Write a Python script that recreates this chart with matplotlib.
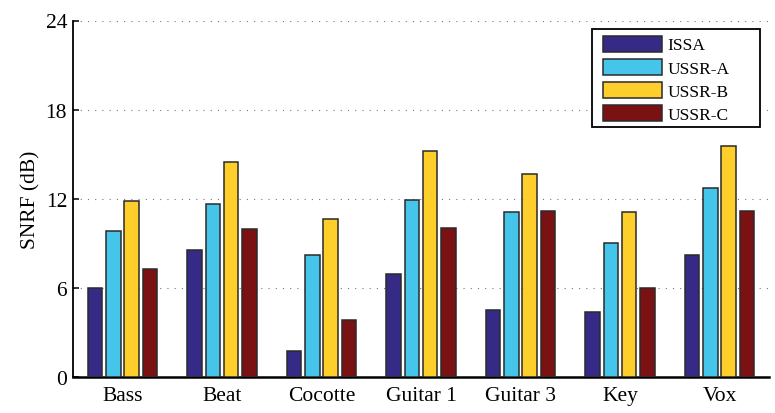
import matplotlib
matplotlib.use("Agg")
import matplotlib.pyplot as plt
from matplotlib.patches import Rectangle
import numpy as np

categories = ["Bass", "Beat", "Cocotte", "Guitar 1", "Guitar 3", "Key", "Vox"]
issa = [6.0, 8.55, 1.75, 6.94, 4.49, 4.38, 8.19]
ussr_a = [9.83, 11.63, 8.2, 11.9, 11.07, 8.98, 12.73]
ussr_b = [11.85, 14.44, 10.64, 15.2, 13.67, 11.09, 15.56]
ussr_c = [7.25, 9.95, 3.82, 10.03, 11.16, 5.95, 11.16]
series_names = ["ISSA", "USSR-A", "USSR-B", "USSR-C"]
yticks = [0, 6, 12, 18, 24]

colors = ["#352A86", "#45C5EA", "#FECE2A", "#7A1214"]

plt.rcParams["font.family"] = ["Liberation Serif", "DejaVu Serif"]

W, H = 775, 414
fig = plt.figure(figsize=(W / 100, H / 100), dpi=100)
ax = fig.add_axes([72.7 / W, 1 - 377.7 / H, (769.3 - 72.7) / W, (377.7 - 21.5) / H])

x = np.arange(1, len(categories) + 1)
step = 0.184
width = 0.145
for i, (vals, name, col) in enumerate(zip([issa, ussr_a, ussr_b, ussr_c], series_names, colors)):
    ax.bar(x + (i - 1.5) * step, vals, width=width, color=col, edgecolor="#2a2a2a",
           linewidth=1.1, label=name, zorder=3)

ax.set_xlim(0.5, 7.5)
ax.set_ylim(0, 24)
ax.set_yticks(yticks)
ax.set_xticks(x)
ax.set_xticklabels(categories)
ax.yaxis.grid(True, linestyle=(0, (1, 5.5)), color="#777777", linewidth=0.8, zorder=0)
ax.set_axisbelow(True)

for s in ["top", "right"]:
    ax.spines[s].set_visible(False)
ax.spines["left"].set_linewidth(1.3)
ax.spines["bottom"].set_linewidth(1.8)
ax.tick_params(axis="both", direction="in", labelsize=15.5, length=4, width=1.1)
ax.tick_params(axis="y", pad=4)
ax.tick_params(axis="x", length=0, pad=7)
ax.set_ylabel("SNRF (dB)", fontsize=15.5, labelpad=4)

# legend box drawn as its own white rectangle, entries placed inside it
box = Rectangle((591.7 / W, 1 - 128.3 / H), (760 - 591.7) / W, (128.3 - 30) / H,
                transform=fig.transFigure, facecolor="white", edgecolor="black",
                linewidth=1.3, zorder=4, clip_on=False)
ax.add_patch(box)

leg = ax.legend(loc="upper left", bbox_to_anchor=(602.7 / W, 1 - 36.5 / H),
                bbox_transform=fig.transFigure,
                fontsize=12.5, frameon=False,
                handlelength=3.4, handleheight=1.05, handletextpad=0.32,
                labelspacing=0.3, borderpad=0.0, borderaxespad=0.0)
leg.set_zorder(5)

fig.savefig("out.png", dpi=100)
